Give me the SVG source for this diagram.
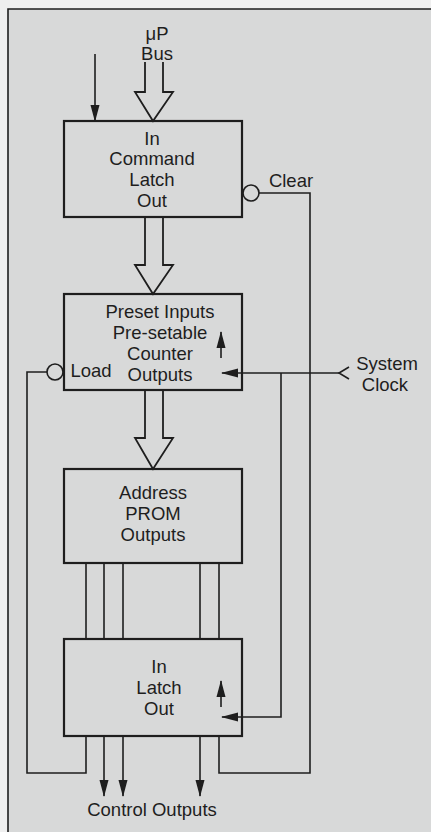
<svg xmlns="http://www.w3.org/2000/svg" width="431" height="832" viewBox="0 0 431 832">
<defs>
<style>
.box{fill:none;stroke:#1e1e1e;stroke-width:2.2}
.ln{fill:none;stroke:#1e1e1e;stroke-width:1.6}
.bus{fill:none;stroke:#1e1e1e;stroke-width:1.8;stroke-linejoin:miter}
text{font-family:"Liberation Sans",Arial,sans-serif;font-size:18.5px;fill:#1e1e1e;text-anchor:middle;dominant-baseline:central}
</style>
<marker id="ahl" markerWidth="17" markerHeight="10" refX="16" refY="5" orient="auto" markerUnits="userSpaceOnUse">
<path d="M0,0.5 L17,5 L0,9.5 Z" fill="#1e1e1e"/>
</marker>
</defs>
<rect x="0" y="0" width="431" height="832" fill="#efefef"/>
<rect x="8" y="9" width="423" height="823" fill="#d8d9d9"/>
<path d="M8,832 V9 H431" class="ln" stroke-width="1.8"/>

<g id="connectors">
<path class="bus" d="M145,62 V92 H135 L153,121 L173,92 H163 V62"/>
<path class="bus" d="M145,217 V265 H135 L153,294 L173,265 H163 V217"/>
<path class="bus" d="M145,390 V438 H135 L153,469 L173,438 H163 V390"/>
<line class="ln" x1="95" y1="54" x2="95" y2="121" marker-end="url(#ahl)"/>
<circle cx="251" cy="193" r="8" class="ln"/>
<path class="ln" d="M259,193 H310 V773 H219 V736"/>
<circle cx="55" cy="372" r="8" class="ln"/>
<path class="ln" d="M47,372 H27 V773 H86 V736"/>
<path class="ln" d="M349,367 L339,373 L349,379"/>
<line class="ln" x1="339" y1="373" x2="222" y2="373" marker-end="url(#ahl)"/>
<path class="ln" d="M281,373 V717 H222" marker-end="url(#ahl)"/>
<line class="ln" x1="221" y1="358" x2="221" y2="332" marker-end="url(#ahl)"/>
<line class="ln" x1="221" y1="707" x2="221" y2="681" marker-end="url(#ahl)"/>
<line class="ln" x1="86" y1="563" x2="86" y2="639"/>
<line class="ln" x1="104" y1="563" x2="104" y2="639"/>
<line class="ln" x1="123" y1="563" x2="123" y2="639"/>
<line class="ln" x1="200" y1="563" x2="200" y2="639"/>
<line class="ln" x1="219" y1="563" x2="219" y2="639"/>
<line class="ln" x1="104" y1="736" x2="104" y2="796" marker-end="url(#ahl)"/>
<line class="ln" x1="123" y1="736" x2="123" y2="796" marker-end="url(#ahl)"/>
<line class="ln" x1="200" y1="736" x2="200" y2="796" marker-end="url(#ahl)"/>
</g>

<g id="bus-label">
<text x="157" y="33">μP</text>
<text x="157" y="53">Bus</text>
</g>

<g id="command-latch">
<rect class="box" x="64" y="121" width="178" height="96"/>
<text x="152" y="138">In</text>
<text x="152" y="158">Command</text>
<text x="152" y="179">Latch</text>
<text x="152" y="200">Out</text>
</g>
<text x="291" y="180">Clear</text>

<g id="counter">
<rect class="box" x="64" y="294" width="178" height="96"/>
<text x="160" y="311">Preset Inputs</text>
<text x="160" y="332">Pre-setable</text>
<text x="160" y="353">Counter</text>
<text x="160" y="374">Outputs</text>
<text x="91" y="370">Load</text>
</g>

<g id="system-clock">
<text x="387" y="363">System</text>
<text x="385" y="384">Clock</text>
</g>

<g id="prom">
<rect class="box" x="64" y="469" width="178" height="94"/>
<text x="153" y="492">Address</text>
<text x="153" y="513">PROM</text>
<text x="153" y="534">Outputs</text>
</g>

<g id="output-latch">
<rect class="box" x="64" y="639" width="178" height="97"/>
<text x="159" y="666">In</text>
<text x="159" y="687">Latch</text>
<text x="159" y="708">Out</text>
</g>

<g id="control-outputs">
<text x="152" y="809">Control Outputs</text>
</g>
</svg>
